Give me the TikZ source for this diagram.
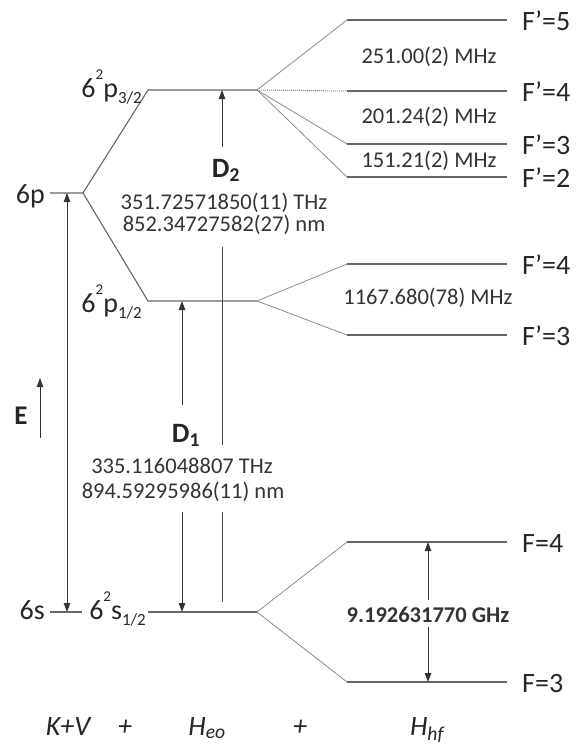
\documentclass[tikz,border=0pt]{standalone}
\usepackage{fontspec}
\setmainfont{Carlito}
\usetikzlibrary{arrows.meta}
\newcommand\supr[1]{\raisebox{0.62em}{\fontsize{15}{15}\selectfont #1}}
\newcommand\subl[1]{\raisebox{-0.22em}{\fontsize{17}{17}\selectfont #1}}
\newcommand\subr[1]{\textsubscript{#1}}
\begin{document}
\begin{tikzpicture}[x=1pt,y=-1pt,
  lvl/.style={draw=black!60, line width=1.1pt},
  hfs/.style={draw=black!45, line width=0.8pt},
  dots/.style={draw=black!45, line width=1pt, densely dotted},
  arr/.style={draw=black!80, line width=0.9pt, -{Triangle[length=9pt,width=6.5pt]}},
  seg/.style={draw=black!70, line width=0.9pt},
  big/.style={font=\fontsize{28}{30}\selectfont, inner sep=0pt, text=black!85},
  small/.style={font=\fontsize{22.5}{24}\selectfont, inner sep=0pt, text=black!80},
  bot/.style={font=\fontsize{28}{30}\selectfont\itshape, inner sep=0pt, text=black!85}]
\useasboundingbox (0,0) rectangle (576,745);
% fine-structure levels
\coordinate (p6L) at (50,193); \coordinate (p6R) at (83,193);
\coordinate (p32L) at (148,90); \coordinate (p32R) at (257,90);
\coordinate (p12L) at (148,301); \coordinate (p12R) at (257,301);
\coordinate (s6L) at (50,612); \coordinate (s6R) at (82,612);
\coordinate (s12L) at (148,612); \coordinate (s12R) at (257,612);
\draw[lvl] (p6L) -- (p6R) -- (p32L) -- (p32R);
\draw[lvl] (p6R) -- (p12L) -- (p12R);
\draw[lvl] (s6L) -- (s6R);
\draw[lvl] (s12L) -- (s12R);
% hyperfine p3/2
\coordinate (a5L) at (347,20);  \coordinate (a5R) at (507,20);
\coordinate (a4L) at (347,91);  \coordinate (a4R) at (507,91);
\coordinate (a3L) at (347,144); \coordinate (a3R) at (507,144);
\coordinate (a2L) at (347,177); \coordinate (a2R) at (507,177);
\draw[hfs] (p32R) -- (a5L); \draw[lvl] (a5L) -- (a5R);
\draw[dots] (p32R) -- (a4L); \draw[lvl] (a4L) -- (a4R);
\draw[hfs] (p32R) -- (a3L); \draw[lvl] (a3L) -- (a3R);
\draw[hfs] (p32R) -- (a2L); \draw[lvl] (a2L) -- (a2R);
% hyperfine p1/2
\coordinate (b4L) at (347,264); \coordinate (b4R) at (507,264);
\coordinate (b3L) at (347,335); \coordinate (b3R) at (507,335);
\draw[hfs] (p12R) -- (b4L); \draw[lvl] (b4L) -- (b4R);
\draw[hfs] (p12R) -- (b3L); \draw[lvl] (b3L) -- (b3R);
% hyperfine s1/2
\coordinate (c4L) at (347,542); \coordinate (c4R) at (507,542);
\coordinate (c3L) at (347,682); \coordinate (c3R) at (507,682);
\draw[hfs] (s12R) -- (c4L); \draw[lvl] (c4L) -- (c4R);
\draw[hfs] (s12R) -- (c3L); \draw[lvl] (c3L) -- (c3R);
% level labels
\node[big, anchor=base east] (l6p) at (45,203) {6p};
\node[big, anchor=base east] (l6s) at (45,619) {6s};
\node[big, anchor=base east] (lp32) at (142,97) {6\supr{2}p\subl{3/2}};
\node[big, anchor=base east] (lp12) at (142,312) {6\supr{2}p\subl{1/2}};
\node[big, anchor=base east] (ls12) at (146,619) {6\supr{2}s\subl{1/2}};
\node[big, anchor=base west] (f5) at (522,30) {F’=5};
\node[big, anchor=base west] (f4) at (522,101) {F’=4};
\node[big, anchor=base west] (f3) at (522,154) {F’=3};
\node[big, anchor=base west] (f2) at (522,187) {F’=2};
\node[big, anchor=base west] (g4) at (522,274) {F’=4};
\node[big, anchor=base west] (g3) at (522,345) {F’=3};
\node[big, anchor=base west] (h4) at (522,552) {F=4};
\node[big, anchor=base west] (h3) at (522,692) {F=3};
% splitting labels
\node[small, anchor=base] (t1) at (429,63) {251.00(2) MHz};
\node[small, anchor=base] (t2) at (429,123) {201.24(2) MHz};
\node[small, anchor=base] (t3) at (429,167) {151.21(2) MHz};
\node[small, anchor=base] (t4) at (428,304) {1167.680(78) MHz};
\node[small, anchor=base, font=\fontsize{22.5}{24}\selectfont\bfseries] (t5) at (428,622) {9.192631770 GHz};
% D lines
\node[big, anchor=base, font=\fontsize{28}{30}\selectfont\bfseries] (d2) at (226,177) {D\subr{2}};
\node[small, anchor=base] (d2a) at (224,209) {351.72571850(11) THz};
\node[small, anchor=base] (d2b) at (224,231) {852.34727582(27) nm};
\node[big, anchor=base, font=\fontsize{28}{30}\selectfont\bfseries] (d1) at (186,442) {D\subr{1}};
\node[small, anchor=base] (d1a) at (182,473) {335.116048807 THz};
\node[small, anchor=base] (d1b) at (183,498) {894.59295986(11) nm};
% arrows
\coordinate (e1) at (67,612); \coordinate (e2) at (67,193);
\draw[draw=black!80, line width=0.9pt, {Triangle[length=9pt,width=6.5pt]}-{Triangle[length=9pt,width=6.5pt]}] (e1) -- (e2);
\coordinate (d2s) at (222,147); \coordinate (d2t) at (222,90);
\draw[arr] (d2s) -- (d2t);
\coordinate (d2u1) at (222,247); \coordinate (d2u2) at (222,445);
\coordinate (d2u3) at (222,512); \coordinate (d2u4) at (222,602);
\draw[seg] (d2u1) -- (d2u2);
\draw[seg] (d2u3) -- (d2u4);
\coordinate (d1s) at (182,405); \coordinate (d1t) at (182,301);
\draw[arr] (d1s) -- (d1t);
\coordinate (d1u) at (182,512); \coordinate (d1v) at (182,612);
\draw[arr] (d1u) -- (d1v);
\coordinate (hfa) at (428,600); \coordinate (hfb) at (428,542);
\coordinate (hfc) at (428,627); \coordinate (hfd) at (428,682);
\draw[arr] (hfa) -- (hfb);
\draw[arr] (hfc) -- (hfd);
% E arrow
\coordinate (ea) at (40,438); \coordinate (eb) at (40,378);
\draw[arr] (ea) -- (eb);
\node[big, anchor=base, font=\fontsize{27}{29}\selectfont\bfseries] (E) at (21,424) {E};
% bottom
\node[bot, anchor=base] (kv) at (68,735) {K+V};
\node[bot, anchor=base] (pl1) at (125,735) {+};
\node[bot, anchor=base] (heo) at (207,735) {H\subr{eo}};
\node[bot, anchor=base] (pl2) at (300,735) {+};
\node[bot, anchor=base] (hhf) at (427,735) {H\subr{hf}};
\end{tikzpicture}
\end{document}
